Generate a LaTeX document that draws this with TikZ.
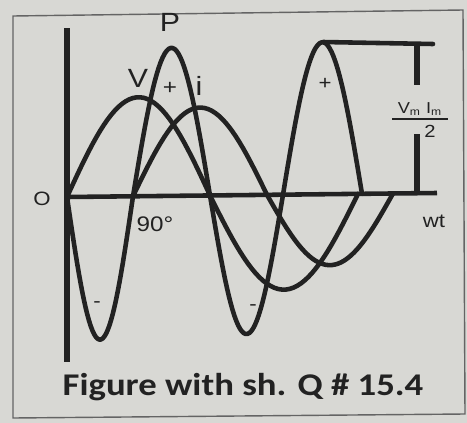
\documentclass[tikz,border=0pt]{standalone}
\usepackage{fontspec}
\setmainfont{Liberation Sans}
\newfontfamily\capfont{Carlito}
\definecolor{paper}{RGB}{216,216,212}
\definecolor{ink}{RGB}{34,34,34}
\begin{document}
\begin{tikzpicture}[x=0.02cm,y=-0.02cm,
    wave/.style={line width=2.6pt, ink, line cap=round, line join=round},
    axis/.style={line width=2.9pt, ink},
    lbl/.style={inner sep=0pt, text=ink, xscale=1.15}]
  \fill [paper] (0,0) rectangle (467,423);
  \useasboundingbox (0,0) rectangle (467,423);
  \draw [line width=0.8pt, ink!70] (13,16) -- (463,10) -- (465,414) -- (13,418) -- cycle;
  % axes
  \coordinate (ytop) at (67,28);
  \coordinate (ybot) at (67,362);
  \coordinate (orig) at (67,197);
  \coordinate (xend) at (437,193);
  \draw [axis] (ytop) -- (ybot);
  \draw [axis, line width=2.6pt] (orig) -- (xend);
  \node (o) [lbl, font=\fontsize{11}{11}\selectfont, anchor=east] at (51,199) {O};
  \node (wt) [lbl, font=\fontsize{11}{11}\selectfont] at (434,221) {wt};
  \node (deg) [lbl, font=\fontsize{12}{12}\selectfont] at (155,224) {90°};
  % v and i
  \foreach \a/\b/\h in {67/210/99, 210/358/-95, 133/267/88, 267/393/-71}
    \draw [wave, domain=\a:\b, samples=40] plot (\x, {197-0.0108*(\x-67)-\h*sin((\x-\a)/(\b-\a)*180)});
  % p
  \foreach \a/\b/\h in {67/133/-143, 133/210/148, 210/283/-139, 283/362/152}
    \draw [wave, domain=\a:\b, samples=40] plot (\x, {197-0.0108*(\x-67)-\h*sin((\x-\a)/(\b-\a)*180)});
  \node (p) [lbl, font=\fontsize{15}{15}\selectfont] at (170,22) {P};
  \node (v) [lbl, font=\fontsize{15}{15}\selectfont] at (138,78) {V};
  \node (i) [lbl, font=\fontsize{15}{15}\selectfont] at (199,86) {i};
  \node (plus1) [lbl, font=\fontsize{12}{12}\selectfont] at (170,88) {+};
  \node (plus2) [lbl, font=\fontsize{11}{11}\selectfont] at (325,84) {+};
  \node (minus1) [lbl, font=\fontsize{11}{11}\selectfont] at (97,305) {-};
  \node (minus2) [lbl, font=\fontsize{11}{11}\selectfont] at (253,308) {-};
  % peak value bracket
  \coordinate (ppk) at (323,42);
  \coordinate (brtop) at (433,44);
  \coordinate (bar1) at (417,44);
  \coordinate (bar2) at (417,85);
  \coordinate (bar3) at (417,134);
  \coordinate (bar4) at (417,194);
  \draw [wave] (ppk) -- (brtop);
  \draw [axis] (bar1) -- (bar2);
  \draw [axis] (bar3) -- (bar4);
  \node (vmim) [lbl, font=\fontsize{9}{9}\selectfont] at (420,109) {V\textsubscript{m} I\textsubscript{m}};
  \draw [ink, line width=1.4pt] ([xshift=-3pt]vmim.south west) ++(0,-2pt) -- ([xshift=3pt,yshift=-2pt]vmim.south east);
  \node (two) [lbl, font=\fontsize{10}{10}\selectfont] at (430,131) {2};
  \node (cap) [lbl, font=\capfont\bfseries\fontsize{18}{18}\selectfont, xscale=1.01] at (243,387) {Figure with sh. Q \# 15.4};
\end{tikzpicture}
\end{document}
